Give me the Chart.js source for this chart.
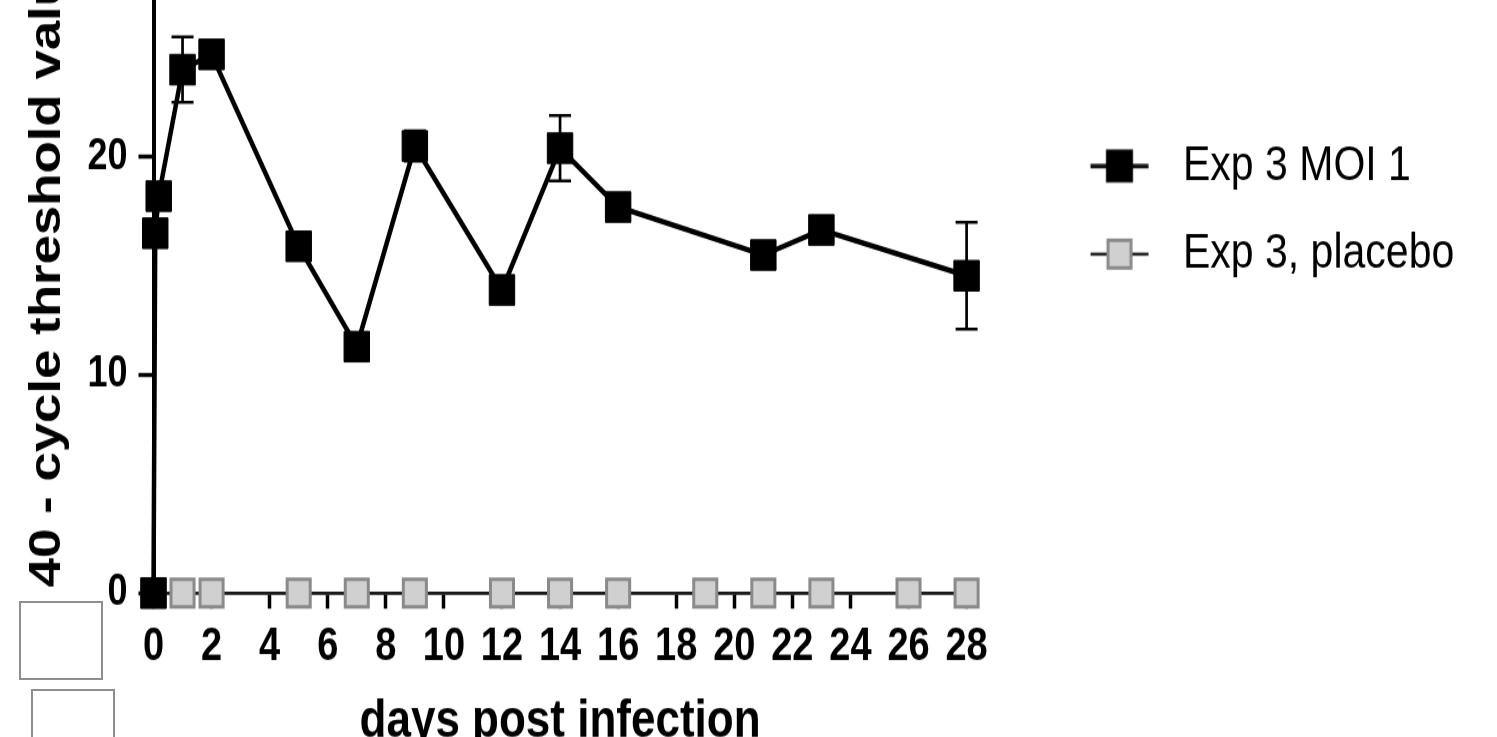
<!DOCTYPE html>
<html>
<head>
<meta charset="utf-8">
<title>Exp 3 - cycle threshold</title>
<script src="https://cdn.jsdelivr.net/npm/chart.js@4.4.1/dist/chart.umd.min.js"></script>
<style>
    html, body { margin: 0; padding: 0; background: #fff; }
    #wrap { position: relative; width: 1497px; height: 737px; overflow: hidden; background: #fff; }
    /* the source figure is stretched vertically, so the canvas is too */
    #chart { position: absolute; left: 0; top: -120px; width: 1497px; height: 734px;
             transform: scaleY(1.2); transform-origin: 0 0; }
    .box { position: absolute; box-sizing: border-box; border: 2px solid #8e8e8e; background: #fff; }
</style>
</head>
<body>
<div id="wrap">
    <canvas id="chart" width="1497" height="734"></canvas>
    <div class="box" style="left:19px; top:601px; width:84px; height:79px;"></div>
    <div class="box" style="left:31px; top:689px; width:84px; height:70px;"></div>
</div>
<script>
// days post infection
const moiDays = [0, 0.06, 0.18, 1, 2, 5, 7, 9, 12, 14, 16, 21, 23, 28];
const moiValues = [0, 16.5, 18.2, 24.0, 24.7, 15.9, 11.3, 20.5, 13.9, 20.4, 17.7, 15.5, 16.65, 14.55];
const moiErrors = [0, 0.4, 0.4, 1.5, 0.5, 0.4, 0.4, 0.7, 0.4, 1.5, 0.4, 0.4, 0.4, 2.45];

const placeboDays = [0, 1, 2, 5, 7, 9, 12, 14, 16, 19, 21, 23, 26, 28];
const placeboValues = [0, 0, 0, 0, 0, 0, 0, 0, 0, 0, 0, 0, 0, 0];

const seriesNames = ['Exp 3 MOI 1', 'Exp 3, placebo'];
const xTickValues = [0, 2, 4, 6, 8, 10, 12, 14, 16, 18, 20, 22, 24, 26, 28];
const yTickValues = [0, 10, 20, 30];

const FONT = 'Arial, "Liberation Sans", Helvetica, sans-serif';
Chart.defaults.font.family = FONT;
Chart.defaults.color = '#000';

// legend symbol: short line with the square in the middle (drawn right of the box centre)
function legendIcon(fill, stroke, lineW, borderW) {
    const c = document.createElement('canvas');
    c.width = 138;
    c.height = 32;
    const g = c.getContext('2d');
    const mx = 107.75;
    g.strokeStyle = '#111';
    g.lineWidth = lineW;
    g.beginPath();
    g.moveTo(mx - 29, 16);
    g.lineTo(mx + 29, 16);
    g.stroke();
    g.fillStyle = fill;
    if (borderW) {
        g.fillRect(mx - 11.5, 4.5, 23, 23);
        g.strokeStyle = stroke;
        g.lineWidth = borderW;
        g.strokeRect(mx - 11.5, 4.5, 23, 23);
    } else {
        g.fillRect(mx - 13.5, 2.25, 27, 27.5);
    }
    return c;
}
const legendIcons = [
    legendIcon('#000', '#000', 3.75, 0),
    legendIcon('#d0d0d0', '#8a8a8a', 2.5, 3)
];

const errorBars = {
    id: 'errorBars',
    beforeDatasetsDraw(chart) {
        const { ctx, scales: { x, y } } = chart;
        ctx.save();
        ctx.strokeStyle = '#000';
        moiDays.forEach((d, i) => {
            const e = moiErrors[i];
            if (!e) return;
            const px = x.getPixelForValue(d);
            const top = y.getPixelForValue(moiValues[i] + e);
            const bot = y.getPixelForValue(moiValues[i] - e);
            ctx.lineWidth = 2.7;
            ctx.beginPath();
            ctx.moveTo(px, top);
            ctx.lineTo(px, bot);
            ctx.stroke();
            ctx.lineWidth = 2.5;
            ctx.beginPath();
            ctx.moveTo(px - 11, top);
            ctx.lineTo(px + 11, top);
            ctx.moveTo(px - 11, bot);
            ctx.lineTo(px + 11, bot);
            ctx.stroke();
        });
        ctx.restore();
    }
};

const ctx = document.getElementById('chart').getContext('2d');
const chart = new Chart(ctx, {
    type: 'line',
    data: {
        datasets: [{
            label: seriesNames[0],
            data: moiDays.map((d, i) => ({ x: d, y: moiValues[i] })),
            borderColor: '#000',
            borderWidth: 4.5,
            pointStyle: 'rect',
            pointRadius: 18,
            pointBackgroundColor: '#000',
            pointBorderColor: '#000',
            pointBorderWidth: 1,
            tension: 0,
            clip: false
        }, {
            label: seriesNames[1],
            data: placeboDays.map((d, i) => ({ x: d, y: placeboValues[i] })),
            borderColor: '#1a1a1a',
            borderWidth: 2.5,
            pointStyle: 'rect',
            pointRadius: 16.3,
            pointBackgroundColor: '#d0d0d0',
            pointBorderColor: '#8a8a8a',
            pointBorderWidth: 3,
            tension: 0,
            clip: false
        }]
    },
    options: {
        responsive: false,
        animation: false,
        events: [],
        layout: { padding: { left: 0, top: 49, right: 36.4, bottom: 5.8 } },
        scales: {
            x: {
                type: 'linear',
                min: 0,
                max: 28,
                afterBuildTicks: (scale) => { scale.ticks = xTickValues.map(v => ({ value: v })); },
                afterFit: (scale) => { scale.height = 134; },
                ticks: { font: { size: 38, weight: 'bold' }, color: '#000', padding: 10 },
                grid: { display: true, drawOnChartArea: false, tickLength: 13, tickWidth: 3.5, tickColor: '#000' },
                border: { display: true, color: '#000', width: 2.5 },
                title: {
                    display: true,
                    text: 'days post infection',
                    color: '#000',
                    font: { size: 44, weight: 'bold' },
                    padding: { top: 0, bottom: 0 }
                }
            },
            y: {
                min: 0,
                max: 30,
                afterBuildTicks: (scale) => { scale.ticks = yTickValues.map(v => ({ value: v })); },
                afterFit: (scale) => { scale.width = 153.5; },
                ticks: { font: { size: 36, weight: 'bold' }, color: '#000', padding: 11 },
                grid: { display: true, drawOnChartArea: false, tickLength: 15, tickWidth: 3.5, tickColor: '#000' },
                border: { display: true, color: '#000', width: 4 },
                title: {
                    display: true,
                    text: '40 - cycle threshold value',
                    color: '#000',
                    font: { size: 44, weight: 'bold' },
                    padding: { top: 21.6, bottom: 0 }
                }
            }
        },
        plugins: {
            tooltip: { enabled: false },
            legend: {
                position: 'right',
                align: 'start',
                maxWidth: 494,
                title: { display: true, text: '', font: { size: 12 }, padding: { top: 122, bottom: 0 } },
                labels: {
                    usePointStyle: true,
                    pointStyleWidth: 163.5,
                    padding: 32.4,
                    color: '#000',
                    font: { size: 41 },
                    generateLabels(chart) {
                        const items = Chart.defaults.plugins.legend.labels.generateLabels(chart);
                        items.forEach((item, i) => { item.pointStyle = legendIcons[i]; });
                        return items;
                    }
                }
            }
        }
    },
    plugins: [errorBars]
});
</script>
</body>
</html>
